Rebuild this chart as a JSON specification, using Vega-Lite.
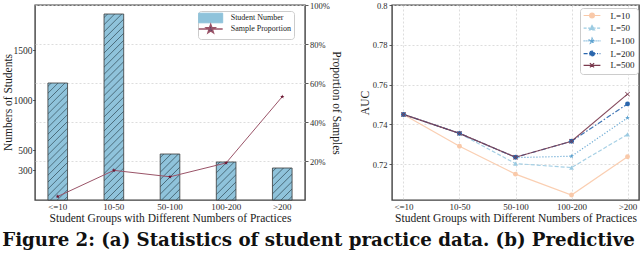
{
  "$schema": "https://vega.github.io/schema/vega-lite/v6.json",
  "padding": {"left": 1, "top": 0, "right": 0, "bottom": 0},
  "spacing": 15,
  "title": {"text": "Figure 2: (a) Statistics of student practice data. (b) Predictive", "orient": "bottom", "anchor": "start", "frame": "bounds", "font": "DejaVu Serif", "fontSize": 18.2, "fontWeight": "bold", "color": "#111111", "offset": 8, "dx": 1},
  "config": {
    "font": "Liberation Serif",
    "view": {"stroke": "#404040", "strokeWidth": 1.4},
    "axis": {"domain": false, "ticks": true, "tickSize": 3, "tickColor": "#333333", "tickWidth": 0.8, "labelFontSize": 9, "labelColor": "#2a2a2a", "titleFontSize": 11.5, "titleFontWeight": "normal", "titleColor": "#1a1a1a", "gridColor": "#d4d4d4", "gridDash": [2, 2], "gridWidth": 0.8},
    "legend": {"labelFontSize": 9, "labelColor": "#222222", "fillColor": "#ffffff", "strokeColor": "#cccccc", "cornerRadius": 3, "padding": 3}
  },
  "resolve": {"scale": {"color": "independent"}, "legend": {"color": "independent"}},
  "hconcat": [
    {
      "width": 270,
      "height": 195,
      "data": {"values": [
        {"group": "<=10", "students": 1170, "prop": 1.8},
        {"group": "10-50", "students": 1860, "prop": 15.2},
        {"group": "50-100", "students": 460, "prop": 11.9},
        {"group": "100-200", "students": 380, "prop": 19.0},
        {"group": ">200", "students": 320, "prop": 53.0}
      ]},
      "encoding": {
        "x": {"field": "group", "type": "nominal", "scale": {"domain": ["<=10", "10-50", "50-100", "100-200", ">200"], "paddingInner": 0.65, "paddingOuter": 0.23}, "axis": {"labelAngle": 0, "title": "Student Groups with Different Numbers of Practices", "labelPadding": 2, "titlePadding": 1, "grid": false, "ticks": false}}
      },
      "layer": [
        {
          "encoding": {"y": {"field": "students", "type": "quantitative", "scale": {"domain": [0, 1950], "nice": false}, "axis": {"values": [300, 500, 1000, 1500], "format": "d", "title": "Numbers of Students", "grid": false, "labelFontSize": 9.5, "tickSize": 2.5, "labelPadding": 0.5, "titleX": -22, "titleY": 97}}},
          "layer": [
            {"transform": [{"filter": "datum.group === '<=10'"}], "mark": {"type": "bar", "stroke": "#3a3a3a", "strokeWidth": 0.8, "fill": {"gradient": "linear", "x1": 0, "y1": 0, "x2": 0.1913, "y2": 1.1362, "stops": [
              {"offset": 0, "color": "#8fc3db"},
              {"offset": 0.018, "color": "#8fc3db"}, {"offset": 0.025, "color": "#4a6b7a"}, {"offset": 0.032, "color": "#8fc3db"},
              {"offset": 0.068, "color": "#8fc3db"}, {"offset": 0.075, "color": "#4a6b7a"}, {"offset": 0.082, "color": "#8fc3db"},
              {"offset": 0.118, "color": "#8fc3db"}, {"offset": 0.125, "color": "#4a6b7a"}, {"offset": 0.132, "color": "#8fc3db"},
              {"offset": 0.168, "color": "#8fc3db"}, {"offset": 0.175, "color": "#4a6b7a"}, {"offset": 0.182, "color": "#8fc3db"},
              {"offset": 0.218, "color": "#8fc3db"}, {"offset": 0.225, "color": "#4a6b7a"}, {"offset": 0.232, "color": "#8fc3db"},
              {"offset": 0.268, "color": "#8fc3db"}, {"offset": 0.275, "color": "#4a6b7a"}, {"offset": 0.282, "color": "#8fc3db"},
              {"offset": 0.318, "color": "#8fc3db"}, {"offset": 0.325, "color": "#4a6b7a"}, {"offset": 0.332, "color": "#8fc3db"},
              {"offset": 0.368, "color": "#8fc3db"}, {"offset": 0.375, "color": "#4a6b7a"}, {"offset": 0.382, "color": "#8fc3db"},
              {"offset": 0.418, "color": "#8fc3db"}, {"offset": 0.425, "color": "#4a6b7a"}, {"offset": 0.432, "color": "#8fc3db"},
              {"offset": 0.468, "color": "#8fc3db"}, {"offset": 0.475, "color": "#4a6b7a"}, {"offset": 0.482, "color": "#8fc3db"},
              {"offset": 0.518, "color": "#8fc3db"}, {"offset": 0.525, "color": "#4a6b7a"}, {"offset": 0.532, "color": "#8fc3db"},
              {"offset": 0.568, "color": "#8fc3db"}, {"offset": 0.575, "color": "#4a6b7a"}, {"offset": 0.582, "color": "#8fc3db"},
              {"offset": 0.618, "color": "#8fc3db"}, {"offset": 0.625, "color": "#4a6b7a"}, {"offset": 0.632, "color": "#8fc3db"},
              {"offset": 0.668, "color": "#8fc3db"}, {"offset": 0.675, "color": "#4a6b7a"}, {"offset": 0.682, "color": "#8fc3db"},
              {"offset": 0.718, "color": "#8fc3db"}, {"offset": 0.725, "color": "#4a6b7a"}, {"offset": 0.732, "color": "#8fc3db"},
              {"offset": 0.768, "color": "#8fc3db"}, {"offset": 0.775, "color": "#4a6b7a"}, {"offset": 0.782, "color": "#8fc3db"},
              {"offset": 0.818, "color": "#8fc3db"}, {"offset": 0.825, "color": "#4a6b7a"}, {"offset": 0.832, "color": "#8fc3db"},
              {"offset": 0.868, "color": "#8fc3db"}, {"offset": 0.875, "color": "#4a6b7a"}, {"offset": 0.882, "color": "#8fc3db"},
              {"offset": 0.918, "color": "#8fc3db"}, {"offset": 0.925, "color": "#4a6b7a"}, {"offset": 0.932, "color": "#8fc3db"},
              {"offset": 0.968, "color": "#8fc3db"}, {"offset": 0.975, "color": "#4a6b7a"}, {"offset": 0.982, "color": "#8fc3db"},
              {"offset": 1, "color": "#8fc3db"}
            ]}}},
            {"transform": [{"filter": "datum.group === '10-50'"}], "mark": {"type": "bar", "stroke": "#3a3a3a", "strokeWidth": 0.8, "fill": {"gradient": "linear", "x1": 0, "y1": 0, "x2": 0.1158, "y2": 1.0936, "stops": [
              {"offset": 0, "color": "#8fc3db"},
              {"offset": 0.0124, "color": "#8fc3db"}, {"offset": 0.0172, "color": "#4a6b7a"}, {"offset": 0.0221, "color": "#8fc3db"},
              {"offset": 0.0469, "color": "#8fc3db"}, {"offset": 0.0517, "color": "#4a6b7a"}, {"offset": 0.0566, "color": "#8fc3db"},
              {"offset": 0.0814, "color": "#8fc3db"}, {"offset": 0.0862, "color": "#4a6b7a"}, {"offset": 0.0910, "color": "#8fc3db"},
              {"offset": 0.1159, "color": "#8fc3db"}, {"offset": 0.1207, "color": "#4a6b7a"}, {"offset": 0.1255, "color": "#8fc3db"},
              {"offset": 0.1503, "color": "#8fc3db"}, {"offset": 0.1552, "color": "#4a6b7a"}, {"offset": 0.1600, "color": "#8fc3db"},
              {"offset": 0.1848, "color": "#8fc3db"}, {"offset": 0.1897, "color": "#4a6b7a"}, {"offset": 0.1945, "color": "#8fc3db"},
              {"offset": 0.2193, "color": "#8fc3db"}, {"offset": 0.2241, "color": "#4a6b7a"}, {"offset": 0.2290, "color": "#8fc3db"},
              {"offset": 0.2538, "color": "#8fc3db"}, {"offset": 0.2586, "color": "#4a6b7a"}, {"offset": 0.2634, "color": "#8fc3db"},
              {"offset": 0.2883, "color": "#8fc3db"}, {"offset": 0.2931, "color": "#4a6b7a"}, {"offset": 0.2979, "color": "#8fc3db"},
              {"offset": 0.3228, "color": "#8fc3db"}, {"offset": 0.3276, "color": "#4a6b7a"}, {"offset": 0.3324, "color": "#8fc3db"},
              {"offset": 0.3572, "color": "#8fc3db"}, {"offset": 0.3621, "color": "#4a6b7a"}, {"offset": 0.3669, "color": "#8fc3db"},
              {"offset": 0.3917, "color": "#8fc3db"}, {"offset": 0.3966, "color": "#4a6b7a"}, {"offset": 0.4014, "color": "#8fc3db"},
              {"offset": 0.4262, "color": "#8fc3db"}, {"offset": 0.4310, "color": "#4a6b7a"}, {"offset": 0.4359, "color": "#8fc3db"},
              {"offset": 0.4607, "color": "#8fc3db"}, {"offset": 0.4655, "color": "#4a6b7a"}, {"offset": 0.4703, "color": "#8fc3db"},
              {"offset": 0.4952, "color": "#8fc3db"}, {"offset": 0.5000, "color": "#4a6b7a"}, {"offset": 0.5048, "color": "#8fc3db"},
              {"offset": 0.5297, "color": "#8fc3db"}, {"offset": 0.5345, "color": "#4a6b7a"}, {"offset": 0.5393, "color": "#8fc3db"},
              {"offset": 0.5641, "color": "#8fc3db"}, {"offset": 0.5690, "color": "#4a6b7a"}, {"offset": 0.5738, "color": "#8fc3db"},
              {"offset": 0.5986, "color": "#8fc3db"}, {"offset": 0.6034, "color": "#4a6b7a"}, {"offset": 0.6083, "color": "#8fc3db"},
              {"offset": 0.6331, "color": "#8fc3db"}, {"offset": 0.6379, "color": "#4a6b7a"}, {"offset": 0.6428, "color": "#8fc3db"},
              {"offset": 0.6676, "color": "#8fc3db"}, {"offset": 0.6724, "color": "#4a6b7a"}, {"offset": 0.6772, "color": "#8fc3db"},
              {"offset": 0.7021, "color": "#8fc3db"}, {"offset": 0.7069, "color": "#4a6b7a"}, {"offset": 0.7117, "color": "#8fc3db"},
              {"offset": 0.7366, "color": "#8fc3db"}, {"offset": 0.7414, "color": "#4a6b7a"}, {"offset": 0.7462, "color": "#8fc3db"},
              {"offset": 0.7710, "color": "#8fc3db"}, {"offset": 0.7759, "color": "#4a6b7a"}, {"offset": 0.7807, "color": "#8fc3db"},
              {"offset": 0.8055, "color": "#8fc3db"}, {"offset": 0.8103, "color": "#4a6b7a"}, {"offset": 0.8152, "color": "#8fc3db"},
              {"offset": 0.8400, "color": "#8fc3db"}, {"offset": 0.8448, "color": "#4a6b7a"}, {"offset": 0.8497, "color": "#8fc3db"},
              {"offset": 0.8745, "color": "#8fc3db"}, {"offset": 0.8793, "color": "#4a6b7a"}, {"offset": 0.8841, "color": "#8fc3db"},
              {"offset": 0.9090, "color": "#8fc3db"}, {"offset": 0.9138, "color": "#4a6b7a"}, {"offset": 0.9186, "color": "#8fc3db"},
              {"offset": 0.9434, "color": "#8fc3db"}, {"offset": 0.9483, "color": "#4a6b7a"}, {"offset": 0.9531, "color": "#8fc3db"},
              {"offset": 0.9779, "color": "#8fc3db"}, {"offset": 0.9828, "color": "#4a6b7a"}, {"offset": 0.9876, "color": "#8fc3db"},
              {"offset": 1, "color": "#8fc3db"}
            ]}}},
            {"transform": [{"filter": "datum.group === '50-100'"}], "mark": {"type": "bar", "stroke": "#3a3a3a", "strokeWidth": 0.8, "fill": {"gradient": "linear", "x1": 0, "y1": 0, "x2": 0.5169, "y2": 1.2069, "stops": [
              {"offset": 0, "color": "#8fc3db"},
              {"offset": 0.0400, "color": "#8fc3db"}, {"offset": 0.0556, "color": "#4a6b7a"}, {"offset": 0.0711, "color": "#8fc3db"},
              {"offset": 0.1511, "color": "#8fc3db"}, {"offset": 0.1667, "color": "#4a6b7a"}, {"offset": 0.1822, "color": "#8fc3db"},
              {"offset": 0.2622, "color": "#8fc3db"}, {"offset": 0.2778, "color": "#4a6b7a"}, {"offset": 0.2933, "color": "#8fc3db"},
              {"offset": 0.3733, "color": "#8fc3db"}, {"offset": 0.3889, "color": "#4a6b7a"}, {"offset": 0.4044, "color": "#8fc3db"},
              {"offset": 0.4844, "color": "#8fc3db"}, {"offset": 0.5000, "color": "#4a6b7a"}, {"offset": 0.5156, "color": "#8fc3db"},
              {"offset": 0.5956, "color": "#8fc3db"}, {"offset": 0.6111, "color": "#4a6b7a"}, {"offset": 0.6267, "color": "#8fc3db"},
              {"offset": 0.7067, "color": "#8fc3db"}, {"offset": 0.7222, "color": "#4a6b7a"}, {"offset": 0.7378, "color": "#8fc3db"},
              {"offset": 0.8178, "color": "#8fc3db"}, {"offset": 0.8333, "color": "#4a6b7a"}, {"offset": 0.8489, "color": "#8fc3db"},
              {"offset": 0.9289, "color": "#8fc3db"}, {"offset": 0.9444, "color": "#4a6b7a"}, {"offset": 0.9600, "color": "#8fc3db"},
              {"offset": 1, "color": "#8fc3db"}
            ]}}},
            {"transform": [{"filter": "datum.group === '100-200'"}], "mark": {"type": "bar", "stroke": "#3a3a3a", "strokeWidth": 0.8, "fill": {"gradient": "linear", "x1": 0, "y1": 0, "x2": 0.6205, "y2": 1.1968, "stops": [
              {"offset": 0, "color": "#8fc3db"},
              {"offset": 0.045, "color": "#8fc3db"}, {"offset": 0.0625, "color": "#4a6b7a"}, {"offset": 0.08, "color": "#8fc3db"},
              {"offset": 0.17, "color": "#8fc3db"}, {"offset": 0.1875, "color": "#4a6b7a"}, {"offset": 0.205, "color": "#8fc3db"},
              {"offset": 0.295, "color": "#8fc3db"}, {"offset": 0.3125, "color": "#4a6b7a"}, {"offset": 0.33, "color": "#8fc3db"},
              {"offset": 0.42, "color": "#8fc3db"}, {"offset": 0.4375, "color": "#4a6b7a"}, {"offset": 0.455, "color": "#8fc3db"},
              {"offset": 0.545, "color": "#8fc3db"}, {"offset": 0.5625, "color": "#4a6b7a"}, {"offset": 0.58, "color": "#8fc3db"},
              {"offset": 0.67, "color": "#8fc3db"}, {"offset": 0.6875, "color": "#4a6b7a"}, {"offset": 0.705, "color": "#8fc3db"},
              {"offset": 0.795, "color": "#8fc3db"}, {"offset": 0.8125, "color": "#4a6b7a"}, {"offset": 0.83, "color": "#8fc3db"},
              {"offset": 0.92, "color": "#8fc3db"}, {"offset": 0.9375, "color": "#4a6b7a"}, {"offset": 0.955, "color": "#8fc3db"},
              {"offset": 1, "color": "#8fc3db"}
            ]}}},
            {"transform": [{"filter": "datum.group === '>200'"}], "mark": {"type": "bar", "stroke": "#3a3a3a", "strokeWidth": 0.8, "fill": {"gradient": "linear", "x1": 0, "y1": 0, "x2": 0.7213, "y2": 1.1717, "stops": [
              {"offset": 0, "color": "#8fc3db"},
              {"offset": 0.0514, "color": "#8fc3db"}, {"offset": 0.0714, "color": "#4a6b7a"}, {"offset": 0.0914, "color": "#8fc3db"},
              {"offset": 0.1943, "color": "#8fc3db"}, {"offset": 0.2143, "color": "#4a6b7a"}, {"offset": 0.2343, "color": "#8fc3db"},
              {"offset": 0.3371, "color": "#8fc3db"}, {"offset": 0.3571, "color": "#4a6b7a"}, {"offset": 0.3771, "color": "#8fc3db"},
              {"offset": 0.48, "color": "#8fc3db"}, {"offset": 0.5, "color": "#4a6b7a"}, {"offset": 0.52, "color": "#8fc3db"},
              {"offset": 0.6229, "color": "#8fc3db"}, {"offset": 0.6429, "color": "#4a6b7a"}, {"offset": 0.6629, "color": "#8fc3db"},
              {"offset": 0.7657, "color": "#8fc3db"}, {"offset": 0.7857, "color": "#4a6b7a"}, {"offset": 0.8057, "color": "#8fc3db"},
              {"offset": 0.9086, "color": "#8fc3db"}, {"offset": 0.9286, "color": "#4a6b7a"}, {"offset": 0.9486, "color": "#8fc3db"},
              {"offset": 1, "color": "#8fc3db"}
            ]}}}
          ]
        },
        {
          "encoding": {"y": {"field": "prop", "type": "quantitative", "scale": {"domain": [0, 100], "nice": false}, "axis": {"orient": "right", "values": [20, 40, 60, 80, 100], "labelExpr": "datum.value + '%'", "title": "Proportion of Samples", "grid": true, "labelFontSize": 8.5, "labelPadding": 1.5, "titlePadding": 1.5}}},
          "layer": [
            {
              "mark": {"type": "line", "strokeWidth": 1},
              "encoding": {"color": {"datum": "Sample Proportion", "type": "nominal", "scale": {"domain": ["Student Number", "Sample Proportion"], "range": ["#8fc3db", "#9a5468"]}, "legend": {
                "title": null, "orient": "none", "legendX": 163, "legendY": 6, "symbolSize": 36, "symbolStrokeWidth": 1, "symbolOffset": 5.7, "labelOffset": 16, "rowPadding": -4, "labelFontSize": 8,
                "encode": {"symbols": {"update": {
                  "shape": {"signal": "datum.value === 'Student Number' ? 'M-4,-1.6H4V1.6H-4Z' : 'M-4,0H4M0,-1.5L0.36,-0.5L1.43,-0.47L0.57,0.18L0.89,1.22L0,0.6L-0.89,1.22L-0.57,0.18L-1.43,-0.47L-0.36,-0.5Z'"},
                  "fill": {"signal": "datum.value === 'Student Number' ? '#8fc3db' : '#27336b'"},
                  "stroke": {"signal": "datum.value === 'Student Number' ? '#222222' : '#7b2d48'"},
                  "strokeWidth": {"signal": "datum.value === 'Student Number' ? 1 : 1.5"},
                  "opacity": {"value": 1}
                }}}
              }}}
            },
            {
              "mark": {"type": "point", "filled": true, "color": "#6b1530", "size": 20, "opacity": 1, "shape": "M0,-1L0.24,-0.33L0.95,-0.31L0.38,0.12L0.59,0.81L0,0.4L-0.59,0.81L-0.38,0.12L-0.95,-0.31L-0.24,-0.33Z"}
            }
          ]
        }
      ],
      "resolve": {"scale": {"y": "independent"}}
    },
    {
      "width": 247,
      "height": 195,
      "data": {"values": [
        {"group": "<=10", "L": "L=10", "auc": 0.745},
        {"group": "10-50", "L": "L=10", "auc": 0.729},
        {"group": "50-100", "L": "L=10", "auc": 0.715},
        {"group": "100-200", "L": "L=10", "auc": 0.7045},
        {"group": ">200", "L": "L=10", "auc": 0.7237},
        {"group": "<=10", "L": "L=50", "auc": 0.745},
        {"group": "10-50", "L": "L=50", "auc": 0.7355},
        {"group": "50-100", "L": "L=50", "auc": 0.7203},
        {"group": "100-200", "L": "L=50", "auc": 0.7183},
        {"group": ">200", "L": "L=50", "auc": 0.735},
        {"group": "<=10", "L": "L=100", "auc": 0.745},
        {"group": "10-50", "L": "L=100", "auc": 0.7355},
        {"group": "50-100", "L": "L=100", "auc": 0.7233},
        {"group": "100-200", "L": "L=100", "auc": 0.724},
        {"group": ">200", "L": "L=100", "auc": 0.7433},
        {"group": "<=10", "L": "L=200", "auc": 0.745},
        {"group": "10-50", "L": "L=200", "auc": 0.7355},
        {"group": "50-100", "L": "L=200", "auc": 0.7235},
        {"group": "100-200", "L": "L=200", "auc": 0.7315},
        {"group": ">200", "L": "L=200", "auc": 0.7503},
        {"group": "<=10", "L": "L=500", "auc": 0.745},
        {"group": "10-50", "L": "L=500", "auc": 0.7355},
        {"group": "50-100", "L": "L=500", "auc": 0.7235},
        {"group": "100-200", "L": "L=500", "auc": 0.7315},
        {"group": ">200", "L": "L=500", "auc": 0.7552}
      ]},
      "encoding": {
        "x": {"field": "group", "type": "nominal", "scale": {"type": "point", "domain": ["<=10", "10-50", "50-100", "100-200", ">200"], "padding": 0.205}, "axis": {"labelAngle": 0, "title": "Student Groups with Different Numbers of Practices", "grid": true, "ticks": false, "labelPadding": 2, "titlePadding": 1}},
        "y": {"field": "auc", "type": "quantitative", "scale": {"domain": [0.702, 0.8], "nice": false, "zero": false}, "axis": {"values": [0.72, 0.74, 0.76, 0.78, 0.8], "format": ".2~f", "title": "AUC", "grid": true, "labelFontSize": 8.5, "labelPadding": 2, "titlePadding": 2}}
      },
      "layer": [
        {
          "mark": {"type": "line", "strokeWidth": 1, "opacity": 0},
          "encoding": {
            "color": {"field": "L", "type": "nominal", "scale": {"domain": ["L=10", "L=50", "L=100", "L=200", "L=500"], "range": ["#f9c9a9", "#9ccbe2", "#5fa3d0", "#2a66ad", "#7a3a4e"]}, "legend": {
              "title": null, "orient": "none", "legendX": 188, "legendY": 3, "symbolSize": 36, "symbolStrokeWidth": 1.2, "symbolOffset": 4.5, "labelOffset": 14, "rowPadding": 1.7, "labelFontSize": 9,
              "encode": {"symbols": {"update": {
                "shape": {"signal": "datum.value === 'L=10' || datum.value === 'L=200' ? 'M-2.8,0H2.8M0.8,0A0.8,0.8,0,1,1,-0.8,0A0.8,0.8,0,1,1,0.8,0Z' : datum.value === 'L=50' ? 'M-2.8,0H2.8M0,-0.9L0.85,0.6L-0.85,0.6Z' : datum.value === 'L=100' ? 'M-2.8,0H2.8M0,-0.85L0.2,-0.28L0.81,-0.26L0.32,0.1L0.5,0.69L0,0.34L-0.5,0.69L-0.32,0.1L-0.81,-0.26L-0.2,-0.28Z' : 'M-2.8,0H2.8M-0.7,-0.7L0.7,0.7M-0.7,0.7L0.7,-0.7'"},
                "fill": {"signal": "datum.value === 'L=10' ? '#f9c9a9' : datum.value === 'L=50' ? '#9ccbe2' : datum.value === 'L=100' ? '#5fa3d0' : datum.value === 'L=200' ? '#2a66ad' : 'transparent'"},
                "stroke": {"signal": "datum.value === 'L=10' ? '#f9c9a9' : datum.value === 'L=50' ? '#9ccbe2' : datum.value === 'L=100' ? '#5fa3d0' : datum.value === 'L=200' ? '#2a66ad' : '#7a3a4e'"},
                "strokeDash": {"signal": "datum.value === 'L=50' ? [3, 1.5] : datum.value === 'L=100' ? [1, 1] : datum.value === 'L=200' ? [4, 1.5, 1, 1.5] : [10, 0]"},
                "strokeWidth": {"value": 1.2},
                "opacity": {"value": 1}
              }}}
            }}
          }
        },
        {"transform": [{"filter": "datum.L === 'L=10'"}], "mark": {"type": "line", "strokeWidth": 1.2, "opacity": 0.9, "color": "#f9c9a9"}},
        {"transform": [{"filter": "datum.L === 'L=50'"}], "mark": {"type": "line", "strokeWidth": 1.2, "opacity": 0.9, "color": "#9ccbe2", "strokeDash": [4, 2]}},
        {"transform": [{"filter": "datum.L === 'L=100'"}], "mark": {"type": "line", "strokeWidth": 1.2, "opacity": 0.9, "color": "#5fa3d0", "strokeDash": [1.2, 1.8]}},
        {"transform": [{"filter": "datum.L === 'L=200'"}], "mark": {"type": "line", "strokeWidth": 1.2, "opacity": 0.9, "color": "#2a66ad", "strokeDash": [5, 2, 1.5, 2]}},
        {"transform": [{"filter": "datum.L === 'L=500'"}], "mark": {"type": "line", "strokeWidth": 1.2, "opacity": 0.9, "color": "#7a3a4e"}},
        {"transform": [{"filter": "datum.L === 'L=10'"}], "mark": {"type": "point", "filled": true, "size": 24, "opacity": 1, "color": "#f9c9a9", "shape": "circle"}},
        {"transform": [{"filter": "datum.L === 'L=50'"}], "mark": {"type": "point", "filled": true, "size": 24, "opacity": 1, "color": "#9ccbe2", "shape": "triangle-up"}},
        {"transform": [{"filter": "datum.L === 'L=100'"}], "mark": {"type": "point", "filled": true, "size": 24, "opacity": 1, "color": "#5fa3d0", "shape": "M0,-1L0.24,-0.33L0.95,-0.31L0.38,0.12L0.59,0.81L0,0.4L-0.59,0.81L-0.38,0.12L-0.95,-0.31L-0.24,-0.33Z"}},
        {"transform": [{"filter": "datum.L === 'L=200'"}], "mark": {"type": "point", "filled": true, "size": 24, "opacity": 1, "color": "#2a66ad", "shape": "circle"}},
        {"transform": [{"filter": "datum.L === 'L=500'"}], "mark": {"type": "point", "filled": true, "size": 24, "opacity": 1, "color": "#7a3a4e", "shape": "M-1,-0.8L-0.8,-1L0,-0.2L0.8,-1L1,-0.8L0.2,0L1,0.8L0.8,1L0,0.2L-0.8,1L-1,0.8L-0.2,0Z"}}
      ]
    }
  ]
}
